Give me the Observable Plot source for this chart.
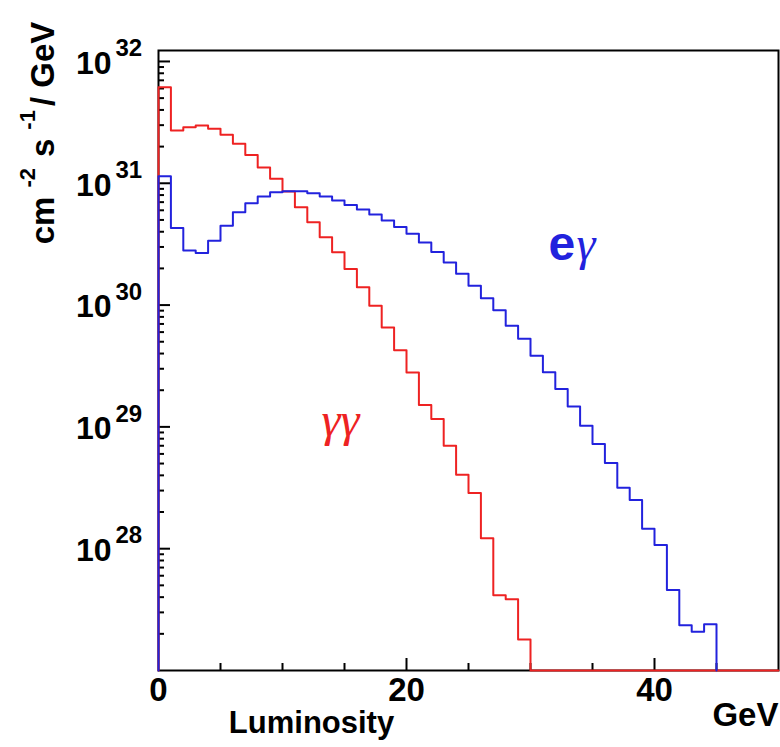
<!DOCTYPE html>
<html><head><meta charset="utf-8">
<script src="https://cdn.jsdelivr.net/npm/d3@7"></script>
<script src="https://cdn.jsdelivr.net/npm/@observablehq/plot@0.6"></script>
<style>body{margin:0;background:#fff} svg{display:block}</style>
</head><body><div id="chart"></div>
<script>
// Luminosity spectra, 1 GeV bins from 0 to 50 GeV (cm^-2 s^-1 / GeV)
const binWidth = 1;
const gammaGamma = [
  6.15e31, 2.71e31, 2.88e31, 2.98e31, 2.80e31, 2.50e31, 2.11e31, 1.71e31, 1.35e31, 1.09e31,
  8.55e30, 6.35e30, 4.79e30, 3.60e30, 2.71e30, 1.98e30, 1.40e30, 9.89e29, 6.56e29, 4.26e29,
  2.80e29, 1.51e29, 1.16e29, 7.00e28, 4.04e28, 2.86e28, 1.22e28, 4.15e27, 3.85e27, 1.80e27,
  0, 0, 0, 0, 0, 0, 0, 0, 0, 0,
  0, 0, 0, 0, 0, 0, 0, 0, 0, 0
];
const eGamma = [
  1.14e31, 4.30e30, 2.80e30, 2.68e30, 3.38e30, 4.49e30, 5.78e30, 6.86e30, 7.78e30, 8.43e30,
  8.59e30, 8.59e30, 8.30e30, 7.78e30, 7.21e30, 6.62e30, 6.08e30, 5.53e30, 4.94e30, 4.37e30,
  3.86e30, 3.27e30, 2.73e30, 2.24e30, 1.81e30, 1.44e30, 1.14e30, 9.08e29, 6.78e29, 5.30e29,
  3.84e29, 2.81e29, 2.05e29, 1.47e29, 1.02e29, 7.23e28, 5.05e28, 3.16e28, 2.51e28, 1.46e28,
  1.07e28, 4.57e27, 2.35e27, 2.08e27, 2.40e27, 0, 0, 0, 0, 0
];
const xMajorTicks = [0, 20, 40];
const xMinorTicks = [5, 10, 15, 25, 30, 35, 45];
const xTickLabels = ["0", "20", "40"];
const yDecadeExponents = [28, 29, 30, 31, 32];
const yTickBase = "10";
const xDomain = [0, 50];
const yDomain = [1e27, Math.pow(10, 32.09)];

const RED = "#ee2222", BLUE = "#2222dd";
const W = 780, H = 747, ML = 158, MR = 2, MT = 50, MB = 77;
const FH = H - MT - MB, FW = W - ML - MR;

function histPoints(values, stopAtLast) {
  let n = values.length;
  if (stopAtLast) while (n > 0 && values[n - 1] === 0) n--;
  const floor = yDomain[0];
  const pts = [{x: 0, y: floor}];
  for (let i = 0; i < n; i++) pts.push({x: i * binWidth, y: values[i] > 0 ? values[i] : floor});
  pts.push({x: n * binWidth, y: stopAtLast ? floor : (values[n - 1] > 0 ? values[n - 1] : floor)});
  return pts;
}

const yMajor = yDecadeExponents.map(e => Math.pow(10, e));
const yMinor = [];
for (let e = 27; e < 32; e++) for (let k = 2; k <= 9; k++) yMinor.push(k * Math.pow(10, e));

const font = "Liberation Sans, Arial, Helvetica, sans-serif";
const serif = "Liberation Serif, Times New Roman, serif";

const chart = Plot.plot({
  width: W, height: H,
  marginLeft: ML, marginRight: MR, marginTop: MT, marginBottom: MB,
  style: {fontFamily: font, background: "white", overflow: "visible"},
  x: {domain: xDomain, axis: null},
  y: {type: "log", domain: yDomain, axis: null},
  marks: [
    Plot.ruleX(xMajorTicks.slice(1), {x: d => d, insetTop: FH - 12, stroke: "black", strokeWidth: 2}),
    Plot.ruleX(xMinorTicks, {x: d => d, insetTop: FH - 7, stroke: "black", strokeWidth: 2}),
    Plot.ruleY(yMajor, {y: d => d, insetRight: FW - 12, stroke: "black", strokeWidth: 2}),
    Plot.ruleY(yMinor, {y: d => d, insetRight: FW - 6, stroke: "black", strokeWidth: 2}),
    Plot.frame({stroke: "black", strokeWidth: 2}),
    Plot.line(histPoints(gammaGamma, false), {x: "x", y: "y", curve: "step-after", stroke: RED, strokeWidth: 2}),
    Plot.line(histPoints(eGamma, true), {x: "x", y: "y", curve: "step-after", stroke: BLUE, strokeWidth: 2}),
    Plot.text(xMajorTicks, {x: d => d, text: (d, i) => xTickLabels[i], frameAnchor: "bottom", lineAnchor: "middle", dy: 20, fontSize: 33, fontWeight: "bold", fill: "black"}),
    Plot.text(yDecadeExponents, {y: d => Math.pow(10, d), text: () => yTickBase, frameAnchor: "left", lineAnchor: "middle", textAnchor: "end", dx: -47, dy: 2, fontSize: 32, fontWeight: "bold", fill: "black", letterSpacing: 1}),
    Plot.text(yDecadeExponents, {y: d => Math.pow(10, d), text: d => String(d), frameAnchor: "left", lineAnchor: "middle", textAnchor: "start", dx: -43, dy: -13, fontSize: 24, fontWeight: "bold", fill: "black", letterSpacing: 3}),
    Plot.text(["Luminosity"], {frameAnchor: "bottom", lineAnchor: "middle", dx: 311 - (ML + FW / 2), dy: 53, fontSize: 31, fontWeight: "bold", fill: "black", letterSpacing: 1.5}),
    Plot.text(["GeV"], {frameAnchor: "bottom-right", lineAnchor: "middle", textAnchor: "end", dy: 45, fontSize: 33, fontWeight: "bold", fill: "black", letterSpacing: 2}),
    Plot.text(["e"], {x: 31.45, y: Math.pow(10, 30.50), text: d => d, textAnchor: "start", fontSize: 48, fontWeight: "bold", fill: BLUE}),
    Plot.text(["γ"], {x: 33.7, y: Math.pow(10, 30.50), text: d => d, textAnchor: "start", fontSize: 48, fontFamily: serif, fontStyle: "italic", fill: BLUE}),
    Plot.text(["γγ"], {x: 13.15, y: Math.pow(10, 29.05), text: d => d, textAnchor: "start", fontSize: 48, fontFamily: serif, fontStyle: "italic", fill: RED})
  ]
});

// y-axis title with superscripts
const svg = d3.select(chart);
const title = svg.append("text")
  .attr("transform", "translate(54,133) rotate(-90)")
  .attr("text-anchor", "middle")
  .attr("font-family", font)
  .attr("font-size", 33)
  .attr("font-weight", "bold")
  .attr("fill", "black");
title.append("tspan").text("cm");
title.append("tspan").attr("dx", 9).attr("dy", -19).attr("font-size", 22).text("-2");
title.append("tspan").attr("dx", 11).attr("dy", 19).text("s");
title.append("tspan").attr("dx", 9).attr("dy", -19).attr("font-size", 22).text("-1");
title.append("tspan").attr("dx", 4).attr("dy", 19).text("/ GeV");

document.getElementById("chart").appendChild(chart);
</script>
</body></html>
